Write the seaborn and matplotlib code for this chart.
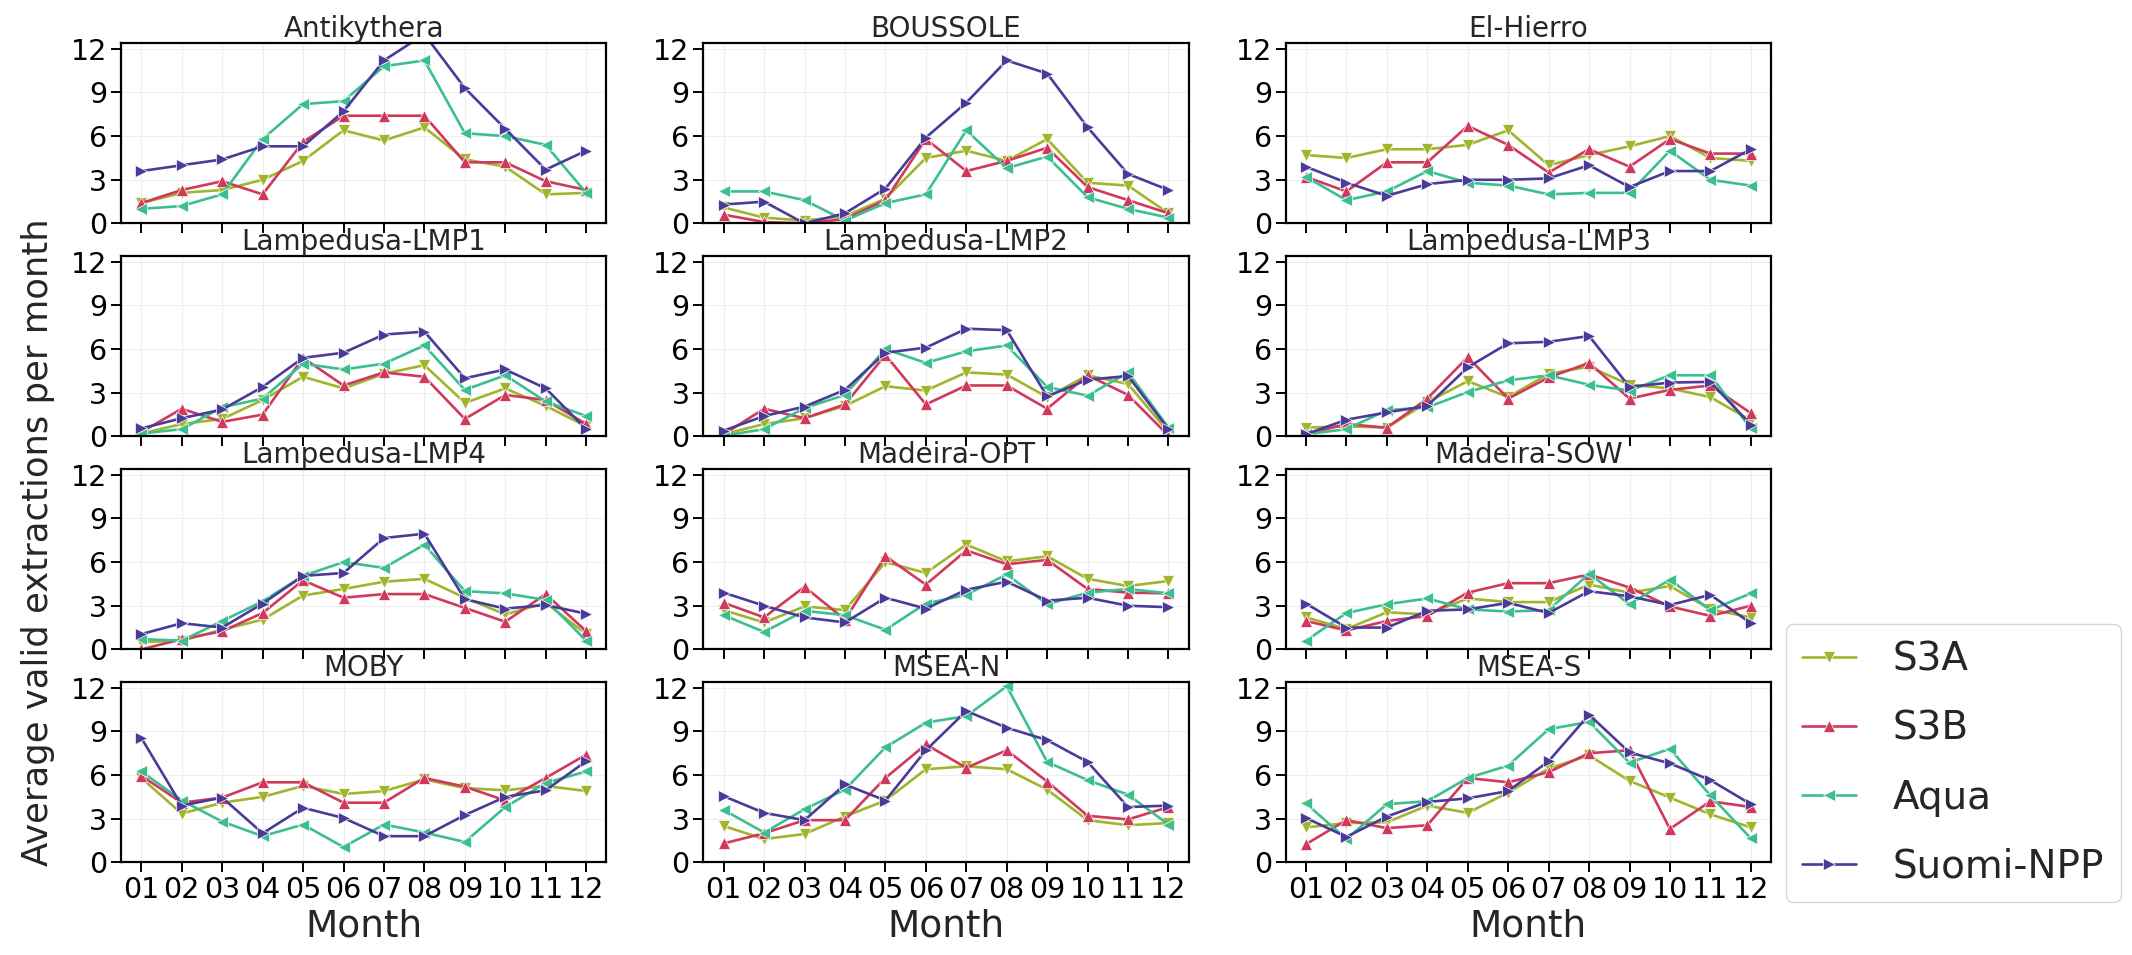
import numpy as np
import pandas as pd
import matplotlib
matplotlib.use("Agg")
import matplotlib.pyplot as plt
import seaborn as sns

months = ["01", "02", "03", "04", "05", "06", "07", "08", "09", "10", "11", "12"]
sensors = ["S3A", "S3B", "Aqua", "Suomi-NPP"]
sites = ["Antikythera", "BOUSSOLE", "El-Hierro",
         "Lampedusa-LMP1", "Lampedusa-LMP2", "Lampedusa-LMP3",
         "Lampedusa-LMP4", "Madeira-OPT", "Madeira-SOW",
         "MOBY", "MSEA-N", "MSEA-S"]

antikythera_s3a = [1.4, 2.1, 2.3, 3.0, 4.3, 6.4, 5.7, 6.6, 4.4, 3.9, 2.0, 2.1]
antikythera_s3b = [1.4, 2.3, 2.9, 2.0, 5.6, 7.4, 7.4, 7.4, 4.2, 4.2, 2.9, 2.3]
antikythera_aqua = [1.0, 1.2, 2.0, 5.8, 8.2, 8.4, 10.8, 11.2, 6.2, 6.0, 5.4, 2.1]
antikythera_npp = [3.6, 4.0, 4.4, 5.3, 5.3, 7.7, 11.2, 13.0, 9.3, 6.5, 3.7, 5.0]

boussole_s3a = [1.1, 0.4, 0.2, 0.5, 1.7, 4.5, 5.0, 4.3, 5.8, 2.8, 2.6, 0.7]
boussole_s3b = [0.6, 0.1, 0.0, 0.3, 1.6, 5.8, 3.6, 4.3, 5.2, 2.5, 1.6, 0.7]
boussole_aqua = [2.2, 2.2, 1.6, 0.2, 1.4, 2.0, 6.4, 3.8, 4.6, 1.8, 1.0, 0.4]
boussole_npp = [1.3, 1.5, 0.0, 0.7, 2.4, 5.9, 8.3, 11.2, 10.3, 6.6, 3.4, 2.3]

elhierro_s3a = [4.7, 4.5, 5.1, 5.1, 5.4, 6.4, 4.0, 4.7, 5.3, 6.0, 4.5, 4.3]
elhierro_s3b = [3.2, 2.2, 4.2, 4.2, 6.7, 5.4, 3.5, 5.1, 3.9, 5.8, 4.8, 4.8]
elhierro_aqua = [3.2, 1.6, 2.2, 3.6, 2.8, 2.6, 2.0, 2.1, 2.1, 5.0, 3.0, 2.6]
elhierro_npp = [3.9, 2.8, 1.9, 2.7, 3.0, 3.0, 3.1, 4.0, 2.5, 3.6, 3.6, 5.1]

lmp1_s3a = [0.2, 0.85, 1.2, 2.5, 4.1, 3.3, 4.3, 4.9, 2.3, 3.3, 2.1, 0.7]
lmp1_s3b = [0.3, 1.9, 1.0, 1.5, 5.4, 3.5, 4.4, 4.1, 1.2, 2.85, 2.5, 0.85]
lmp1_aqua = [0.2, 0.5, 2.0, 2.6, 5.0, 4.6, 5.0, 6.25, 3.2, 4.2, 2.4, 1.4]
lmp1_npp = [0.55, 1.25, 1.85, 3.4, 5.4, 5.75, 7.0, 7.2, 4.0, 4.6, 3.3, 0.5]

lmp2_s3a = [0.15, 0.85, 1.25, 2.1, 3.45, 3.15, 4.4, 4.25, 2.7, 4.2, 3.6, 0.3]
lmp2_s3b = [0.15, 1.9, 1.25, 2.2, 5.6, 2.2, 3.5, 3.5, 1.9, 4.2, 2.85, 0.05]
lmp2_aqua = [0.05, 0.5, 1.95, 2.85, 6.0, 5.05, 5.85, 6.25, 3.4, 2.8, 4.4, 0.6]
lmp2_npp = [0.4, 1.4, 2.05, 3.2, 5.75, 6.1, 7.4, 7.3, 2.75, 3.9, 4.15, 0.5]

lmp3_s3a = [0.6, 0.7, 0.6, 2.35, 3.8, 2.7, 4.3, 4.8, 3.55, 3.3, 2.7, 1.1]
lmp3_s3b = [0.15, 0.85, 0.6, 2.6, 5.45, 2.6, 4.05, 5.05, 2.6, 3.2, 3.5, 1.6]
lmp3_aqua = [0.15, 0.5, 1.8, 2.0, 3.05, 3.85, 4.2, 3.55, 3.15, 4.2, 4.2, 0.55]
lmp3_npp = [0.15, 1.15, 1.65, 2.1, 4.75, 6.4, 6.5, 6.9, 3.4, 3.7, 3.75, 0.8]

lmp4_s3a = [0.5, 0.6, 1.35, 2.05, 3.7, 4.15, 4.65, 4.85, 3.55, 2.4, 3.2, 1.05]
lmp4_s3b = [0.0, 0.7, 1.25, 2.5, 4.75, 3.55, 3.8, 3.8, 2.85, 1.9, 3.8, 1.25]
lmp4_aqua = [0.7, 0.6, 1.95, 3.3, 5.05, 6.0, 5.6, 7.2, 4.0, 3.85, 3.4, 0.6]
lmp4_npp = [1.05, 1.8, 1.5, 3.15, 5.05, 5.25, 7.65, 7.95, 3.45, 2.8, 3.05, 2.45]

opt_s3a = [2.7, 1.85, 2.95, 2.7, 6.0, 5.25, 7.2, 6.05, 6.4, 4.85, 4.35, 4.7]
opt_s3b = [3.2, 2.2, 4.3, 2.05, 6.4, 4.45, 6.8, 5.85, 6.15, 4.15, 3.9, 3.85]
opt_aqua = [2.35, 1.2, 2.65, 2.35, 1.35, 3.15, 3.75, 5.15, 3.1, 3.9, 4.15, 3.85]
opt_npp = [3.9, 3.0, 2.2, 1.85, 3.55, 2.8, 4.1, 4.65, 3.35, 3.55, 3.0, 2.9]

sow_s3a = [2.2, 1.4, 2.55, 2.4, 3.5, 3.25, 3.25, 4.45, 3.9, 4.35, 2.75, 2.2]
sow_s3b = [1.95, 1.3, 1.95, 2.3, 3.9, 4.55, 4.55, 5.15, 4.25, 2.95, 2.3, 3.0]
sow_aqua = [0.6, 2.5, 3.1, 3.5, 2.75, 2.6, 2.7, 5.2, 3.1, 4.8, 2.7, 3.85]
sow_npp = [3.15, 1.5, 1.5, 2.65, 2.75, 3.2, 2.5, 4.0, 3.65, 3.05, 3.75, 1.8]

moby_s3a = [5.8, 3.35, 4.1, 4.5, 5.25, 4.7, 4.9, 5.7, 5.1, 4.95, 5.25, 4.9]
moby_s3b = [5.95, 4.1, 4.45, 5.5, 5.5, 4.1, 4.1, 5.8, 5.2, 4.25, 5.8, 7.4]
moby_aqua = [6.25, 4.25, 2.8, 1.8, 2.6, 1.05, 2.6, 2.05, 1.4, 3.8, 5.45, 6.25]
moby_npp = [8.55, 3.9, 4.45, 2.0, 3.75, 3.05, 1.8, 1.8, 3.25, 4.5, 4.95, 6.95]

mseaN_s3a = [2.5, 1.6, 1.95, 3.15, 4.25, 6.4, 6.6, 6.4, 5.0, 2.9, 2.55, 2.7]
mseaN_s3b = [1.3, 2.0, 2.9, 2.9, 5.8, 8.1, 6.5, 7.7, 5.55, 3.2, 2.95, 3.8]
mseaN_aqua = [3.6, 2.05, 3.65, 5.0, 7.9, 9.6, 10.05, 12.1, 6.9, 5.65, 4.65, 2.6]
mseaN_npp = [4.55, 3.4, 2.9, 5.35, 4.25, 7.7, 10.4, 9.25, 8.4, 6.9, 3.8, 3.9]

mseaS_s3a = [2.4, 2.7, 2.75, 3.9, 3.4, 4.8, 6.45, 7.35, 5.6, 4.45, 3.3, 2.4]
mseaS_s3b = [1.25, 2.9, 2.35, 2.55, 5.8, 5.5, 6.2, 7.5, 7.7, 2.3, 4.2, 3.8]
mseaS_aqua = [4.05, 1.6, 4.0, 4.2, 5.8, 6.65, 9.15, 9.65, 6.85, 7.8, 4.6, 1.65]
mseaS_npp = [3.05, 1.75, 3.15, 4.15, 4.4, 4.9, 6.95, 10.15, 7.55, 6.8, 5.65, 4.0]

site_values = {
    "Antikythera": [antikythera_s3a, antikythera_s3b, antikythera_aqua, antikythera_npp],
    "BOUSSOLE": [boussole_s3a, boussole_s3b, boussole_aqua, boussole_npp],
    "El-Hierro": [elhierro_s3a, elhierro_s3b, elhierro_aqua, elhierro_npp],
    "Lampedusa-LMP1": [lmp1_s3a, lmp1_s3b, lmp1_aqua, lmp1_npp],
    "Lampedusa-LMP2": [lmp2_s3a, lmp2_s3b, lmp2_aqua, lmp2_npp],
    "Lampedusa-LMP3": [lmp3_s3a, lmp3_s3b, lmp3_aqua, lmp3_npp],
    "Lampedusa-LMP4": [lmp4_s3a, lmp4_s3b, lmp4_aqua, lmp4_npp],
    "Madeira-OPT": [opt_s3a, opt_s3b, opt_aqua, opt_npp],
    "Madeira-SOW": [sow_s3a, sow_s3b, sow_aqua, sow_npp],
    "MOBY": [moby_s3a, moby_s3b, moby_aqua, moby_npp],
    "MSEA-N": [mseaN_s3a, mseaN_s3b, mseaN_aqua, mseaN_npp],
    "MSEA-S": [mseaS_s3a, mseaS_s3b, mseaS_aqua, mseaS_npp],
}

rows = []
for site in sites:
    for sensor, vals in zip(sensors, site_values[site]):
        for m, v in zip(months, vals):
            rows.append({"Site": site, "Sensor": sensor, "Month": m, "Value": v})
df = pd.DataFrame(rows)

palette = {"S3A": "#a0b52c", "S3B": "#d0395c", "Aqua": "#3cbf90", "Suomi-NPP": "#4b3b98"}
markers = {"S3A": "v", "S3B": "^", "Aqua": "<", "Suomi-NPP": ">"}

sns.set_style("whitegrid", {"axes.edgecolor": "black", "grid.color": "#eeeeee",
                            "xtick.bottom": True, "ytick.left": True,
                            "axes.linewidth": 1.6})
plt.rcParams["font.family"] = ["DejaVu Sans"]

fig, axes = plt.subplots(4, 3, figsize=(21.32, 9.55), dpi=100, sharex=True)
fig.subplots_adjust(left=0.0568, right=0.8307, top=0.955, bottom=0.097,
                    wspace=0.2, hspace=0.18)

for ax, site in zip(axes.flat, sites):
    sub = df[df["Site"] == site]
    sns.lineplot(data=sub, x="Month", y="Value", hue="Sensor", style="Sensor",
                 hue_order=sensors, style_order=sensors, palette=palette,
                 markers=markers, dashes=False, markersize=8, linewidth=1.9,
                 markeredgewidth=0.5, ax=ax, legend=(site == sites[0]))
    ax.set_title(site, fontsize=20, pad=4)
    ax.set_ylim(0, 12.4)
    ax.set_yticks([0, 3, 6, 9, 12])
    ax.set_xlim(-0.5, 11.5)
    ax.tick_params(axis="both", labelsize=20.5, length=7, width=1.4, colors="black",
                   pad=3)
    ax.set_ylabel("")
    ax.set_xlabel("")
    for s in ax.spines.values():
        s.set_color("black")
        s.set_linewidth(1.6)

for ax in axes[-1, :]:
    ax.set_xlabel("Month", fontsize=27, labelpad=3)

handles, labels = axes[0, 0].get_legend_handles_labels()
axes[0, 0].get_legend().remove()
leg = fig.legend(handles, labels, loc="lower left", bbox_to_anchor=(0.8375, 0.0555),
                 borderaxespad=0, fontsize=28, frameon=True, handlelength=1.39,
                 labelspacing=0.8, borderpad=0.42, handletextpad=0.95)
leg.get_frame().set_edgecolor("#cccccc")

fig.text(0.018, 0.432, "Average valid extractions per month", rotation=90,
         va="center", ha="center", fontsize=25.5)

fig.savefig("out.png", dpi=100)
